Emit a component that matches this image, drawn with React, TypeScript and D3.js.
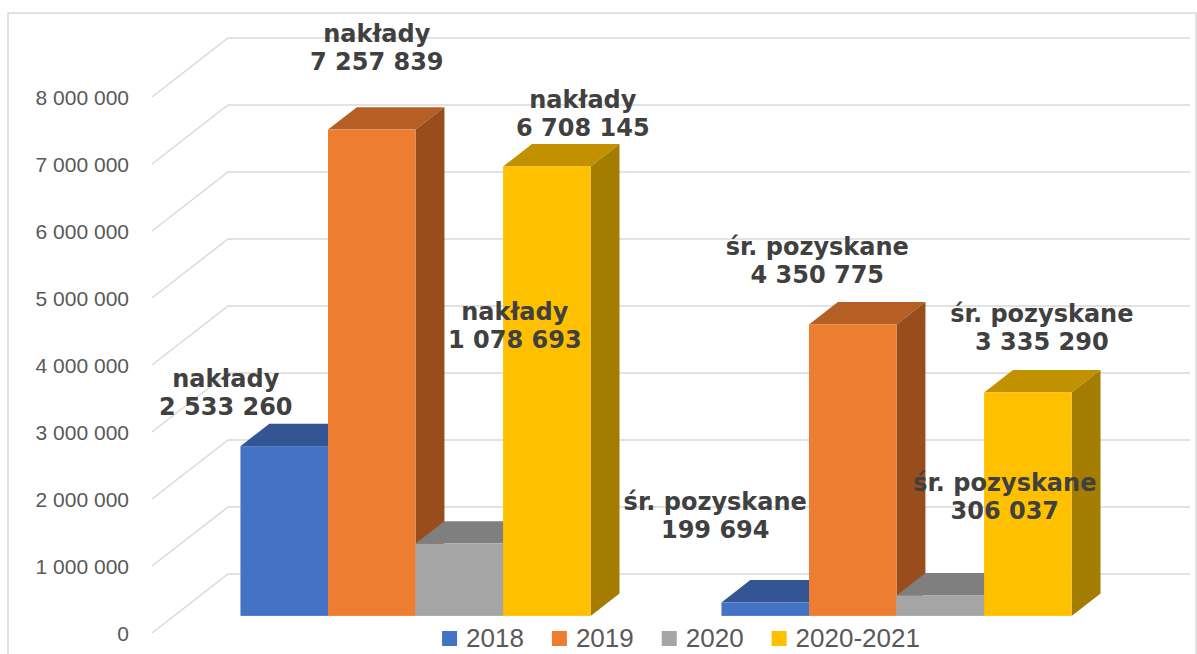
import React from "react";
import * as d3 from "d3";

const categories = ["nakłady", "śr. pozyskane"];
const seriesNames = ["2018", "2019", "2020", "2020-2021"];
const values2018 = [2533260, 199694];
const values2019 = [7257839, 4350775];
const values2020 = [1078693, 306037];
const values20202021 = [6708145, 3335290];
const yTicks = [0, 1000000, 2000000, 3000000, 4000000, 5000000, 6000000, 7000000, 8000000];

const seriesValues = [values2018, values2019, values2020, values20202021];

// styling
const frontColors = ["#4472c4", "#ed7d31", "#a5a5a5", "#ffc000"];
const topColors = ["#335593", "#b65f24", "#7f7f7f", "#c29100"];
const sideColors = ["#2c4d86", "#994d1d", "#6e6e6e", "#a37c00"];

// label offsets relative to bar front-top center: [series][category]
const labelOffsets = [
  [[-58.5, -31], [-50, -64.6]],
  [[5, -60], [-35.5, -41.5]],
  [[55.5, -196], [64.5, -76.5]],
  [[36, -30.6], [14, -42.5]],
];

const W = 1197;
const H = 654;
const DEPTH = { x: 76, y: -59 };
const BAR_F0 = 0.29;
const BAR_F1 = 0.67;

const fmt = (v: number) => d3.format(",")(v).replace(/,/g, " ");

function measure(text: string, font: string) {
  const c = document.createElement("canvas");
  const ctx = c.getContext("2d")!;
  ctx.font = font;
  return ctx.measureText(text).width;
}

export default function App() {
  const y = d3.scaleLinear().domain([0, 8000000]).range([633, 97]);
  const x0 = d3.scaleBand<string>().domain(categories).range([153, 1115]).paddingInner(0.272).paddingOuter(0.136);
  const x1 = d3.scaleBand<string>().domain(seriesNames).range([0, x0.bandwidth()]);

  const fx = DEPTH.x * BAR_F0;
  const fy = DEPTH.y * BAR_F0;
  const bdx = DEPTH.x * (BAR_F1 - BAR_F0);
  const bdy = DEPTH.y * (BAR_F1 - BAR_F0);

  const wallX = 152;
  const backRight = 1190;

  const bars: any[] = [];
  categories.forEach((cat, ci) => {
    seriesNames.forEach((s, si) => {
      const v = seriesValues[si][ci];
      const xa = (x0(cat) as number) + (x1(s) as number) + fx;
      const xb = xa + x1.bandwidth();
      const yt = y(v) + fy;
      const yb = y(0) + fy;
      bars.push({ ci, si, v, xa, xb, yt, yb });
    });
  });

  const legendFont = "26px 'Liberation Sans'";
  const legendItems = seriesNames.map((s) => ({ s, w: measure(s, legendFont) }));
  const sq = 15, gapText = 9, gapItem = 28;
  const totalW = legendItems.reduce((a, it) => a + sq + gapText + it.w, 0) + gapItem * (legendItems.length - 1);
  let lx = 681 - totalW / 2;
  const legendPos = legendItems.map((it) => {
    const p = { ...it, x: lx };
    lx += sq + gapText + it.w + gapItem;
    return p;
  });

  return (
    <svg width={W} height={H} style={{ position: "absolute", left: 0, top: 0, background: "#fff" }}>
      <rect x={8} y={13} width={1188} height={660} fill="#fff" stroke="#d9d9d9" strokeWidth={1.5} />
      {/* gridlines */}
      {yTicks.map((t) => {
        const yy = y(t);
        return (
          <path
            key={"g" + t}
            d={`M${wallX},${yy}L${wallX + DEPTH.x},${yy + DEPTH.y}L${backRight},${yy + DEPTH.y}`}
            fill="none"
            stroke="#d9d9d9"
            strokeWidth={1.5}
          />
        );
      })}
      {/* y labels */}
      {yTicks.map((t) => (
        <text
          key={"t" + t}
          x={129}
          y={y(t) + 7.5}
          textAnchor="end"
          fontFamily="'Liberation Sans', Arial, sans-serif"
          fontSize={21}
          fill="#595959"
        >
          {fmt(t)}
        </text>
      ))}
      {/* bars */}
      {bars.map((b) => (
        <g key={`b${b.ci}-${b.si}`}>
          <path
            d={`M${b.xa},${b.yt}L${b.xb},${b.yt}L${b.xb + bdx},${b.yt + bdy}L${b.xa + bdx},${b.yt + bdy}Z`}
            fill={topColors[b.si]}
          />
          <path
            d={`M${b.xb},${b.yt}L${b.xb + bdx},${b.yt + bdy}L${b.xb + bdx},${b.yb + bdy}L${b.xb},${b.yb}Z`}
            fill={sideColors[b.si]}
          />
          <rect x={b.xa} y={b.yt} width={b.xb - b.xa} height={b.yb - b.yt} fill={frontColors[b.si]} />
        </g>
      ))}
      {/* labels */}
      {bars.map((b) => {
        const [dx, dy] = labelOffsets[b.si][b.ci];
        const cx = (b.xa + b.xb) / 2 + dx;
        const by = b.yt + dy;
        return (
          <text
            key={`l${b.ci}-${b.si}`}
            textAnchor="middle"
            fontFamily="'DejaVu Sans', Verdana, sans-serif"
            fontWeight="bold"
            fontSize={24}
            fill="#404040"
          >
            <tspan x={cx} y={by - 28}>{categories[b.ci]}</tspan>
            <tspan x={cx} y={by}>{fmt(b.v)}</tspan>
          </text>
        );
      })}
      {/* legend */}
      {legendPos.map((it, i) => (
        <g key={"lg" + i}>
          <rect x={it.x} y={631} width={sq} height={sq} fill={frontColors[i]} />
          <text
            x={it.x + sq + gapText}
            y={647}
            fontFamily="'Liberation Sans', Arial, sans-serif"
            fontSize={26}
            fill="#595959"
          >
            {it.s}
          </text>
        </g>
      ))}
    </svg>
  );
}
